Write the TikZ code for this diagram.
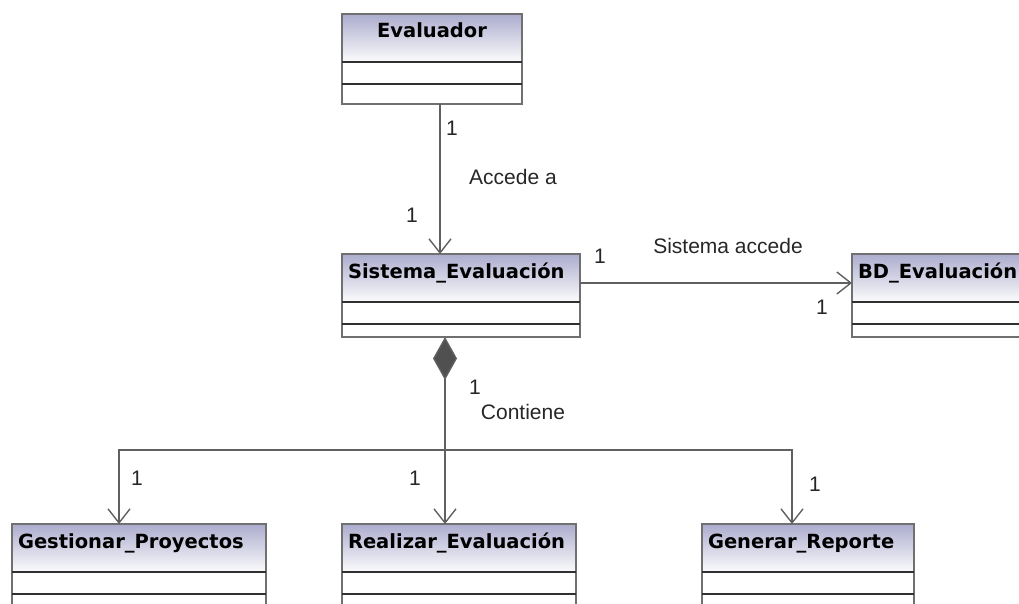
\documentclass[tikz,border=0pt]{standalone}
\usepackage{fontspec}
\setmainfont{Liberation Sans}
\newfontfamily\clsfont{DejaVu Sans}
\usetikzlibrary{arrows.meta,positioning,calc}
\definecolor{boxgray}{RGB}{112,112,112}
\definecolor{linegray}{RGB}{96,96,96}
\definecolor{sepgray}{RGB}{48,48,48}
\definecolor{headtop}{RGB}{172,172,206}
\definecolor{diamgray}{RGB}{80,80,80}

\begin{document}
\begin{tikzpicture}[x=1pt, y=-1pt]
\tikzstyle{head}=[rectangle, draw=boxgray, line width=1.4pt, top color=headtop, bottom color=white!96!headtop, anchor=north west, minimum height=48, inner xsep=6, inner ysep=0, outer sep=0, text height=12, text depth=12, font=\clsfont\bfseries\fontsize{19.5}{22}\selectfont]
\tikzstyle{comp}=[rectangle, draw=boxgray, line width=1.4pt, fill=white, inner sep=0, outer sep=0, minimum height=22]
\tikzstyle{sep}=[draw=sepgray, line width=1.8pt]
\tikzstyle{assoc}=[-{Straight Barb[length=14pt, width=22pt]}, draw=linegray, line width=1.4pt]
\tikzstyle{whole}=[{Diamond[length=43pt, width=24pt, fill=diamgray]}-{Straight Barb[length=14pt, width=22pt]}, draw=linegray, line width=1.4pt]
\tikzstyle{lbl}=[inner sep=0, font=\fontsize{21}{24}\selectfont, text=black!85]

\path[use as bounding box] (0,0) rectangle (1019,604);
\clip (0,0) rectangle (1019,604);

  % clases
  \node[head, align=center, text width=168] (eva) at (342,14)  {Evaluador};
  \node[comp, minimum width=180, below=0pt of eva]  (evaA) {};
  \node[comp, minimum width=180, minimum height=20, below=0pt of evaA] (evaO) {};

  \node[head, align=left, text width=226] (sis) at (342,254) {Sistema\_Evaluación};
  \node[comp, minimum width=238, below=0pt of sis]  (sisA) {};
  \node[comp, minimum width=238, minimum height=13, below=0pt of sisA] (sisO) {};

  \node[head, align=left, text width=178] (bd) at (852,254)  {BD\_Evaluación};
  \node[comp, minimum width=190, below=0pt of bd]   (bdA) {};
  \node[comp, minimum width=190, minimum height=13, below=0pt of bdA] (bdO) {};

  \node[head, align=left, text width=242] (ges) at (12,524)  {Gestionar\_Proyectos};
  \node[comp, minimum width=254, below=0pt of ges]  (gesA) {};
  \node[comp, minimum width=254, minimum height=13, below=0pt of gesA] (gesO) {};

  \node[head, align=left, text width=222] (rea) at (342,524) {Realizar\_Evaluación};
  \node[comp, minimum width=234, below=0pt of rea]  (reaA) {};
  \node[comp, minimum width=234, minimum height=13, below=0pt of reaA] (reaO) {};

  \node[head, align=left, text width=200] (gen) at (702,524) {Generar\_Reporte};
  \node[comp, minimum width=212, below=0pt of gen]  (genA) {};
  \node[comp, minimum width=212, minimum height=13, below=0pt of genA] (genO) {};

  \foreach \c in {eva,sis,bd,ges,rea,gen} {
    \draw[sep] (\c A.north west) -- (\c A.north east);
    \draw[sep] (\c O.north west) -- (\c O.north east);
  }

  % puntos de paso
  \coordinate (ax) at (440,0);
  \coordinate (ay) at (0,283);
  \coordinate (cx) at (445,450);
  \coordinate (gx) at (119,450);
  \coordinate (nx) at (792,450);

  % conectores
  \draw[assoc] (evaO.south -| ax) -- (sis.north -| ax);
  \draw[assoc] (sis.east |- ay) -- (bd.west |- ay);
  \draw[whole] (sisO.south -| cx) -- (rea.north -| cx);
  \draw[assoc] (cx) -| (ges.north -| gx);
  \draw[assoc] (cx) -| (gen.north -| nx);

  % etiquetas
  \node[lbl] (m1) at (452,128) {1};
  \node[lbl] (accede) at (513,177) {Accede a};
  \node[lbl] (m2) at (412,215) {1};
  \node[lbl] (m3) at (600,256) {1};
  \node[lbl] (sisacc) at (728,246) {Sistema accede};
  \node[lbl] (m4) at (822,307) {1};
  \node[lbl] (m5) at (475,387) {1};
  \node[lbl] (contiene) at (523,412) {Contiene};
  \node[lbl] (m6) at (137,478) {1};
  \node[lbl] (m7) at (415,478) {1};
  \node[lbl] (m8) at (815,484) {1};

\end{tikzpicture}
\end{document}
